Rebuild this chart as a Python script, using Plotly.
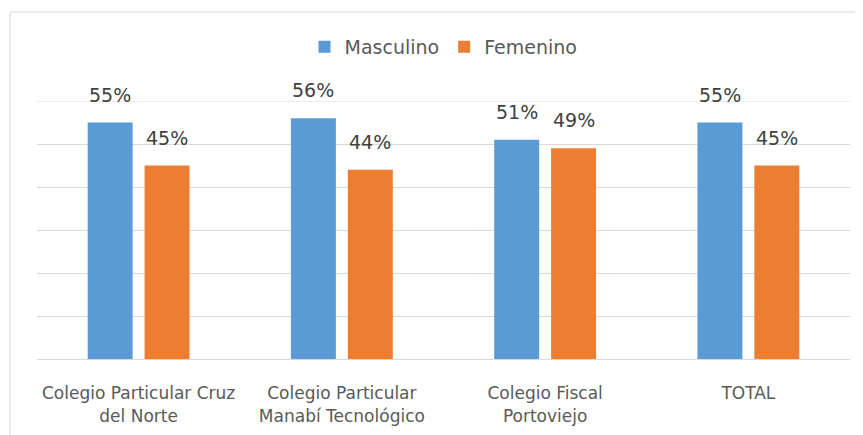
import plotly.graph_objects as go

categories = ["Colegio Particular Cruz<br>del Norte", "Colegio Particular<br>Manabí Tecnológico",
              "Colegio Fiscal<br>Portoviejo", "TOTAL"]
masculino = [0.55, 0.56, 0.51, 0.55]
femenino = [0.45, 0.44, 0.49, 0.45]
y_max = 0.6

blue = "#5B9BD5"
orange = "#ED7D31"
font_family = "DejaVu Sans"

fig = go.Figure()
fig.add_trace(go.Bar(name="Masculino", x=categories, y=masculino, marker_color=blue,
                     marker_line_width=0))
fig.add_trace(go.Bar(name="Femenino", x=categories, y=femenino, marker_color=orange,
                     marker_line_width=0))

annotations = []
for i, c in enumerate(categories):
    for val, shift in ((masculino[i], -28.5), (femenino[i], 28.5)):
        annotations.append(dict(x=c, y=val, xref="x", yref="y", text=f"{round(val*100)}%",
                                showarrow=False, xshift=shift, yshift=15, yanchor="bottom",
                                font=dict(family=font_family, size=19, color="#404040")))

W, H = 855, 427
fig.update_layout(
    width=W, height=H,
    margin=dict(l=29, r=13, t=93, b=76, autoexpand=False),
    paper_bgcolor="white", plot_bgcolor="white",
    barmode="group", bargap=0.44, bargroupgap=0.21,
    font=dict(family=font_family, color="#595959"),
    showlegend=True,
    legend=dict(orientation="h", x=0.5, xanchor="center", y=(351 - 39) / 258, yanchor="middle",
                font=dict(family=font_family, size=19, color="#595959"),
                itemwidth=30, traceorder="normal"),
    annotations=annotations,
    shapes=[
        dict(type="rect", xref="paper", yref="paper", x0=-27 / 813, x1=1.5,
             y0=-1, y1=(351 - 4) / 258, line=dict(color="#D9D9D9", width=1),
             fillcolor="rgba(0,0,0,0)", layer="below"),
        dict(type="line", xref="paper", yref="y", x0=0, x1=1, y0=y_max, y1=y_max,
             line=dict(color="#D9D9D9", width=1), layer="below"),
    ],
)
fig.update_xaxes(showgrid=False, showline=True, linecolor="#D9D9D9", linewidth=1,
                 tickfont=dict(family=font_family, size=17, color="#595959"), ticks="",
                 ticklabelstandoff=19, automargin=False)
fig.update_yaxes(range=[0, y_max], dtick=0.1, showgrid=True, gridcolor="#D9D9D9",
                 showticklabels=False, zeroline=False, showline=False, automargin=False)

fig.write_html("out.html")
